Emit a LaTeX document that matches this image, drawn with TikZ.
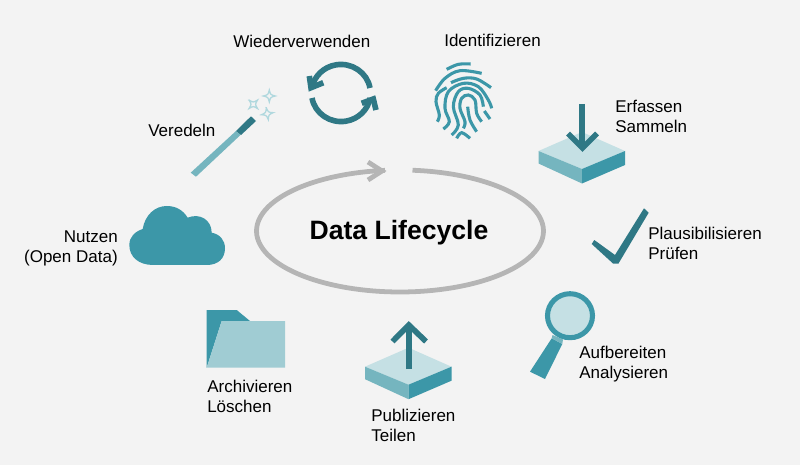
\documentclass[tikz,border=0pt]{standalone}
\usepackage{fontspec}
\setmainfont{Liberation Sans}
\usepackage{tikz}
\usetikzlibrary{positioning}
\usetikzlibrary{calc}

\definecolor{tealdark}{HTML}{2F7885}
\definecolor{tealmid}{HTML}{3C97A8}
\definecolor{teallight}{HTML}{75B5BF}
\definecolor{tealpale}{HTML}{C5E0E4}
\definecolor{tealfolder}{HTML}{A0CCD3}
\definecolor{ringgray}{HTML}{B5B5B5}
\definecolor{sparkle}{HTML}{B0D8DE}

\tikzset{
  label/.style={anchor=west, align=left, inner sep=0pt, text=black, font=\fontsize{12.1}{13.8}\selectfont},
  ring/.style={draw=ringgray, line width=3.4pt},
  bar/.style={draw=tealdark, line width=4pt, miter limit=10},
  print/.style={draw=tealmid, line width=2.2pt, line cap=butt},
}

\begin{document}
\begin{tikzpicture}[x=0.25mm, y=-0.25mm]
  \fill[white!95.3!black] (0,0) rectangle (800,465);

  %ring
  \draw[ring] plot[domain=-85:264, samples=100, smooth] ({400+143.5*cos(\x)},{231+61*sin(\x)});
  \draw[ring, miter limit=10] (368,162) -- (382,171) -- (368,180);
  \node[inner sep=0pt, font=\fontsize{18.9}{22}\selectfont\bfseries] (title) at (399,232.5) {Data Lifecycle};

  %labels
  \foreach \x/\y/\name/\txt in {233/41/wieder/Wiederverwenden, 444/40.5/ident/Identifizieren, 148/130.5/veredeln/Veredeln,
      615/116.5/erfassen/{Erfassen\\Sammeln}, 648/243.5/pruefen/{Plausibilisieren\\Prüfen},
      579/364/analyse/{Aufbereiten\\Analysieren}, 371/425.5/teilen/{Publizieren\\Teilen},
      207/396.5/archiv/{Archivieren\\Löschen}}{
    \node[label] (\name) at (\x,\y) {\txt};
  }
  \node[label, anchor=east, align=right] (nutzen) at (118,248.5) {Nutzen\\(Open Data)};

  %platforms
  \foreach \px/\py/\name in {582/151/pa, 408.5/366.7/pb}{
    \begin{scope}[shift={(\px,\py)}]
      \fill[tealpale] (-43.5,0) -- (0,-19) -- (43,0) -- (0,18) -- cycle;
      \fill[teallight] (-43.5,0) -- (0,18) -- (0,32.5) -- (-43.5,12.5) -- cycle;
      \fill[tealmid] (0,18) -- (43,0) -- (43,14) -- (0,32.5) -- cycle;
    \end{scope}
  }

  %arrow down and up
  \draw[bar] (582.3,104) -- (582.3,148);
  \draw[bar] (568,133.5) -- (582.5,148) -- (597,133.5);
  \draw[bar] (409.3,369) -- (409.3,326);
  \draw[bar] (392.5,341.5) -- (408.8,325) -- (426,341.5);

  %recycle
  \draw[bar] (370,88) arc[start angle=-10, end angle=-170, x radius=29.5, y radius=28.5];
  \draw[bar] (309.3,76) -- (311,87.7) -- (323.3,82.7);
  \draw[bar] (312,98) arc[start angle=170, end angle=10, x radius=29.5, y radius=28.5];
  \draw[bar] (361.7,103.3) -- (373.3,99) -- (376,110);

  %wand
  \fill[teallight] (190.7,172.7) -- (196,176.7) -- (240.5,135) -- (236,131) -- cycle;
  \fill[tealdark] (236,131) -- (241,135) -- (256,121) -- (251,116.3) -- cycle;
  \foreach \sx/\sy/\rot in {253.3/104.3/45, 269.3/96/0, 267.3/113.7/10}{
    \draw[sparkle, line width=0.9pt, rotate around={\rot:(\sx,\sy)}]
      (\sx,\sy-6) .. controls (\sx+1.2,\sy-1.2) .. (\sx+6,\sy)
      .. controls (\sx+1.2,\sy+1.2) .. (\sx,\sy+6)
      .. controls (\sx-1.2,\sy+1.2) .. (\sx-6,\sy)
      .. controls (\sx-1.2,\sy-1.2) .. cycle;
  }

  %fingerprint
  \begin{scope}[shift={(420,50)}, scale=1/3]
    \foreach \pts in {
        {(80,58)(115,43)(152,42)},
        {(47,122)(75,85)(120,62)(185,70)},
        {(93,98)(130,85)(170,87)(213,113)},
        {(52,215)(58,195)(48,155)(55,130)(80,113)},
        {(70,237)(88,215)(75,175)(85,125)(130,100)(175,110)(205,150)(215,175)},
        {(95,255)(115,225)(100,170)(115,125)(145,115)(180,135)(190,170)},
        {(193,183)(210,207)},
        {(130,235)(135,215)(120,175)(125,145)(145,135)(165,150)(170,190)(185,215)},
        {(143,170)(150,210)(170,245)},
        {(110,265)(125,248)(150,265)}}{
      \draw[print] plot[smooth, tension=0.6] coordinates {\pts};
    }
  \end{scope}

  %check
  \fill[tealdark] (594.3,240) -- (615,255) -- (644,208.3) -- (648.7,212.7) -- (618.5,263.5) -- (613,263.5) -- (591.7,244) -- cycle;

  %magnifier
  \fill[tealmid] (551.7,338.3) -- (562.3,344) -- (545,379) -- (530,371.7) -- cycle;
  \fill[teallight] (552.5,335) -- (563,339.5) -- (562.3,344) -- (551.7,338.3) -- cycle;
  \draw[draw=tealmid, fill=tealpale, line width=3.6pt] (570,315.7) circle[x radius=22.5, y radius=22];

  %folder
  \fill[tealmid] (206.7,310) -- (236.7,310) -- (250,321) -- (221.7,321) -- (206.7,367.7) -- cycle;
  \fill[tealfolder] (221.7,321) -- (285,321) -- (285,367.7) -- (206.7,367.7) -- cycle;

  %cloud
  \begin{scope}[shift={(120,190)}, scale=1/3]
    \fill[tealmid] (100,225) .. controls (55,225) and (28,200) .. (28,165)
      .. controls (28,140) and (45,125) .. (68,117)
      .. controls (75,75) and (105,48) .. (140,48)
      .. controls (170,48) and (190,62) .. (203,83)
      .. controls (240,68) and (275,90) .. (275,128)
      .. controls (300,133) and (315,150) .. (315,175)
      .. controls (315,205) and (295,225) .. (260,225) -- cycle;
  \end{scope}
\end{tikzpicture}
\end{document}
